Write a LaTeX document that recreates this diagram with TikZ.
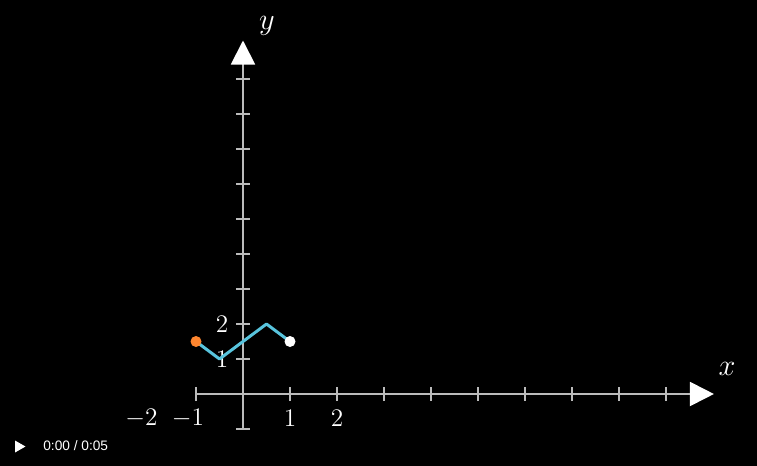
\documentclass[tikz,border=0pt]{standalone}
\usepackage{fontspec}
\usepackage{amsmath}
\usepackage{tikz}
\usetikzlibrary{arrows.meta}
\newfontfamily\oynaticiFont{Liberation Sans}
\definecolor{eksenGri}{HTML}{BBBBBB}
\definecolor{egriMavi}{HTML}{58C4DD}
\definecolor{turuncu}{HTML}{FF862F}
\tikzset{
  eksen/.style={eksenGri,line width=1.1pt,-{Triangle[length=0.48cm,width=0.48cm,color=white,fill=white]}},
  centik/.style={eksenGri,line width=1.1pt},
  etiket/.style={white,font=\fontsize{14}{16}\selectfont},
  eksenAdi/.style={white,font=\fontsize{17}{19}\selectfont}
}

\begin{document}
\begin{tikzpicture}
\fill[black] (0,0) rectangle (15.14,-9.32);
\useasboundingbox (0,0) rectangle (15.14,-9.32);
\begin{scope}[shift={(4.86,-7.88)},x=0.94cm,y=0.7cm]
% eksenler
\draw[eksen] (-1,0)--(10.02,0);
\draw[eksen] (0,-1)--(0,10.1);
\foreach \i in {-1,1,2,...,9}
  \draw[centik] (\i,0) ++(0,-0.14cm) -- ++(0,0.28cm);
\foreach \i in {-1,1,2,...,9}
  \draw[centik] (0,\i) ++(-0.14cm,0) -- ++(0.28cm,0);
\node[etiket] (xm2) at ([xshift=-0.15cm,yshift=-0.48cm]-2,0) {$-2$};
\node[etiket] (xm1) at ([xshift=-0.16cm,yshift=-0.48cm]-1,0) {$-1$};
\node[etiket] (x1) at ([yshift=-0.48cm]1,0) {$1$};
\node[etiket] (x2) at ([yshift=-0.48cm]2,0) {$2$};
\node[etiket] (y1) at ([xshift=-0.42cm]0,1) {$1$};
\node[etiket] (y2) at ([xshift=-0.42cm]0,2) {$2$};
\node[eksenAdi] (xAdi) at (10.3,0.72) {$x$};
\node[eksenAdi] (yAdi) at (0.51,10.52) {$y$};
% egri
\coordinate (a) at (-1,1.5);
\coordinate (b) at (-0.5,1);
\coordinate (c) at (0.5,2);
\coordinate (d) at (1,1.5);
\draw[egriMavi,line width=1.7pt,line join=round] (a)--(b)--(c)--(d);
\fill[turuncu] (a) circle (0.11cm);
\fill[white] (d) circle (0.11cm);
\end{scope}
% oynatici
\fill[white] (0.30,-8.81)--(0.51,-8.93)--(0.30,-9.05)--cycle;
\node[white,anchor=west,inner sep=0pt,font=\oynaticiFont\fontsize{7.8}{9}\selectfont] (sure) at (0.86,-8.92) {0:00 / 0:05};
\end{tikzpicture}
\end{document}
